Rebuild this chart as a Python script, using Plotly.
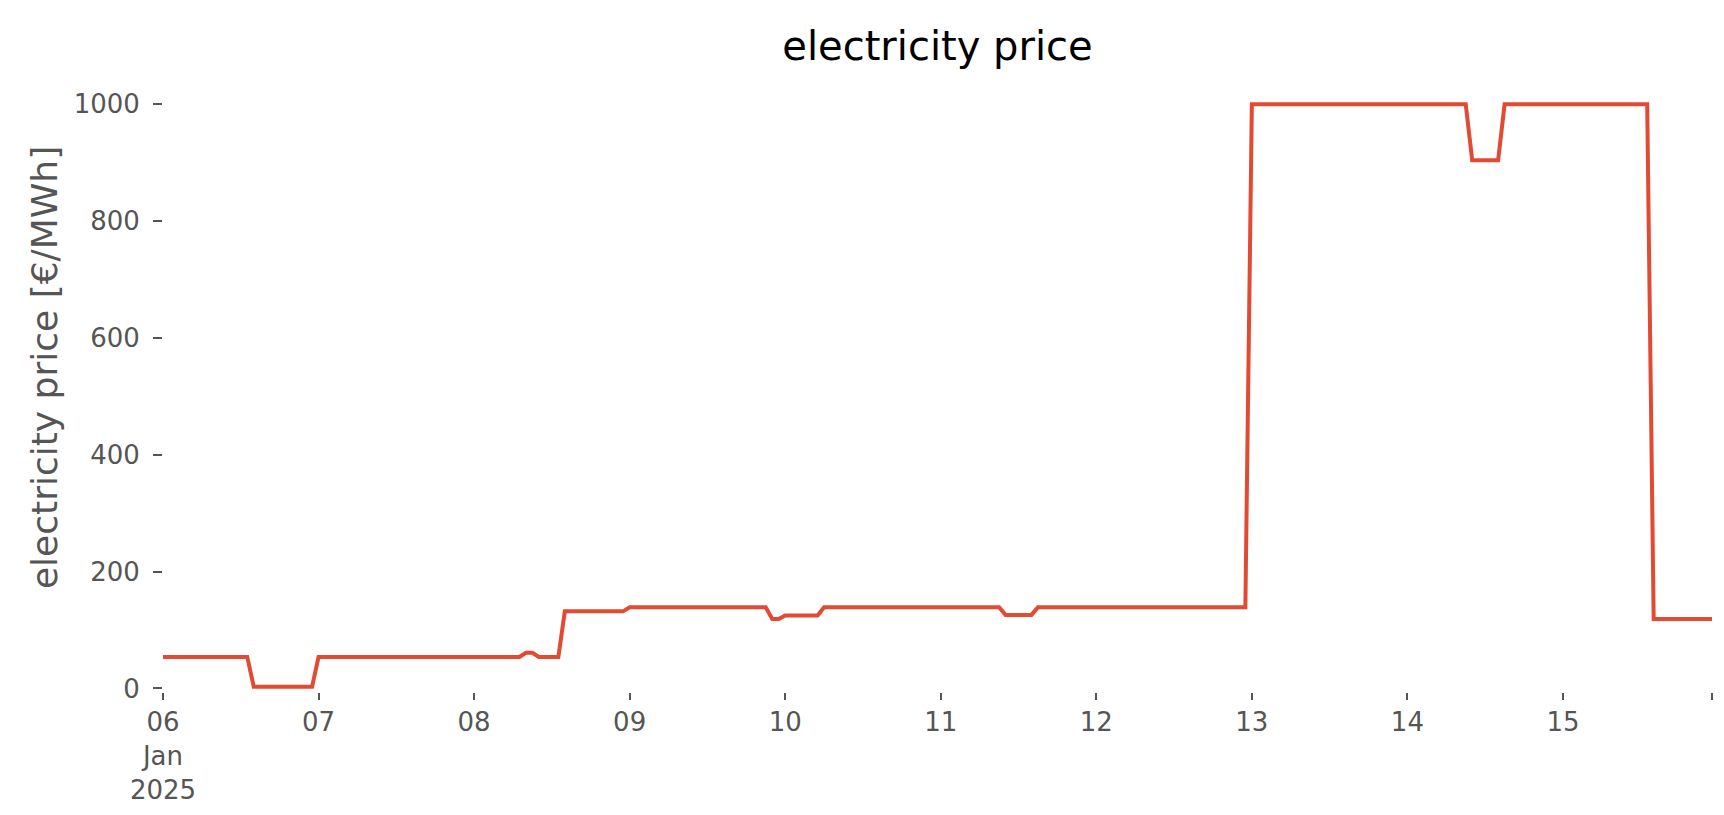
import pandas as pd
import plotly.graph_objects as go

# Hourly electricity price [€/MWh], 2025-01-06 00:00 .. 2025-01-15 23:00
start = "2025-01-06 00:00"
jan06 = [54, 54, 54, 54, 54, 54, 54, 54, 54, 54, 54, 54, 54, 54, 3, 3, 3, 3, 3, 3, 3, 3, 3, 3]
jan07 = [54, 54, 54, 54, 54, 54, 54, 54, 54, 54, 54, 54, 54, 54, 54, 54, 54, 54, 54, 54, 54, 54, 54, 54]
jan08 = [54, 54, 54, 54, 54, 54, 54, 54, 61, 61, 54, 54, 54, 54, 132, 132, 132, 132, 132, 132, 132, 132, 132, 132]
jan09 = [139, 139, 139, 139, 139, 139, 139, 139, 139, 139, 139, 139, 139, 139, 139, 139, 139, 139, 139, 139, 139, 139, 119, 119]
jan10 = [125, 125, 125, 125, 125, 125, 139, 139, 139, 139, 139, 139, 139, 139, 139, 139, 139, 139, 139, 139, 139, 139, 139, 139]
jan11 = [139, 139, 139, 139, 139, 139, 139, 139, 139, 139, 126, 126, 126, 126, 126, 139, 139, 139, 139, 139, 139, 139, 139, 139]
jan12 = [139, 139, 139, 139, 139, 139, 139, 139, 139, 139, 139, 139, 139, 139, 139, 139, 139, 139, 139, 139, 139, 139, 139, 139]
jan13 = [1000, 1000, 1000, 1000, 1000, 1000, 1000, 1000, 1000, 1000, 1000, 1000, 1000, 1000, 1000, 1000, 1000, 1000, 1000, 1000, 1000, 1000, 1000, 1000]
jan14 = [1000, 1000, 1000, 1000, 1000, 1000, 1000, 1000, 1000, 1000, 904, 904, 904, 904, 904, 1000, 1000, 1000, 1000, 1000, 1000, 1000, 1000, 1000]
jan15 = [1000, 1000, 1000, 1000, 1000, 1000, 1000, 1000, 1000, 1000, 1000, 1000, 1000, 1000, 119, 119, 119, 119, 119, 119, 119, 119, 119, 119]

prices = jan06 + jan07 + jan08 + jan09 + jan10 + jan11 + jan12 + jan13 + jan14 + jan15
times = pd.date_range(start, periods=len(prices), freq="h")

x_tick_dates = ["2025-01-06", "2025-01-07", "2025-01-08", "2025-01-09", "2025-01-10",
                "2025-01-11", "2025-01-12", "2025-01-13", "2025-01-14", "2025-01-15",
                "2025-01-15 23:00"]
x_tick_labels = ["06<br>Jan<br>2025", "07", "08", "09", "10", "11", "12", "13", "14", "15", ""]
y_ticks = [0, 200, 400, 600, 800, 1000]

TICK = "#555555"
FONT = "DejaVu Sans"

fig = go.Figure()
fig.add_trace(go.Scatter(
    x=times, y=prices, mode="lines",
    line=dict(color="#E24A33", width=4),
    showlegend=False,
))

fig.update_layout(
    width=1724, height=815,
    margin=dict(l=155, r=20, t=67, b=131),
    paper_bgcolor="white", plot_bgcolor="white",
    font=dict(family=FONT, color=TICK, size=26),
    title=dict(text="electricity price", x=0.5, xref="paper", xanchor="center",
               y=1 - 38 / 815, yref="container", yanchor="middle",
               font=dict(family=FONT, size=40, color="black")),
    xaxis=dict(
        type="date",
        range=[times[0], times[-1]],
        showgrid=False, zeroline=False, showline=False,
        ticks="outside", ticklen=7, tickwidth=2, tickcolor=TICK,
        tickvals=x_tick_dates, ticktext=x_tick_labels,
        tickfont=dict(family=FONT, size=26, color=TICK),
    ),
    yaxis=dict(
        range=[-6, 1050],
        showgrid=False, zeroline=False, showline=False,
        ticks="outside", ticklen=9, tickwidth=2, tickcolor=TICK,
        tickvals=y_ticks,
        tickfont=dict(family=FONT, size=26, color=TICK),
        ticklabelstandoff=8,
    ),
    annotations=[dict(
        text="electricity price [€/MWh]", textangle=-90,
        xref="paper", yref="paper", x=-(155 - 36) / 1549, y=0.525,
        xanchor="center", yanchor="middle", showarrow=False,
        font=dict(family=FONT, size=36, color=TICK),
    )],
)

fig.write_html("out.html")
